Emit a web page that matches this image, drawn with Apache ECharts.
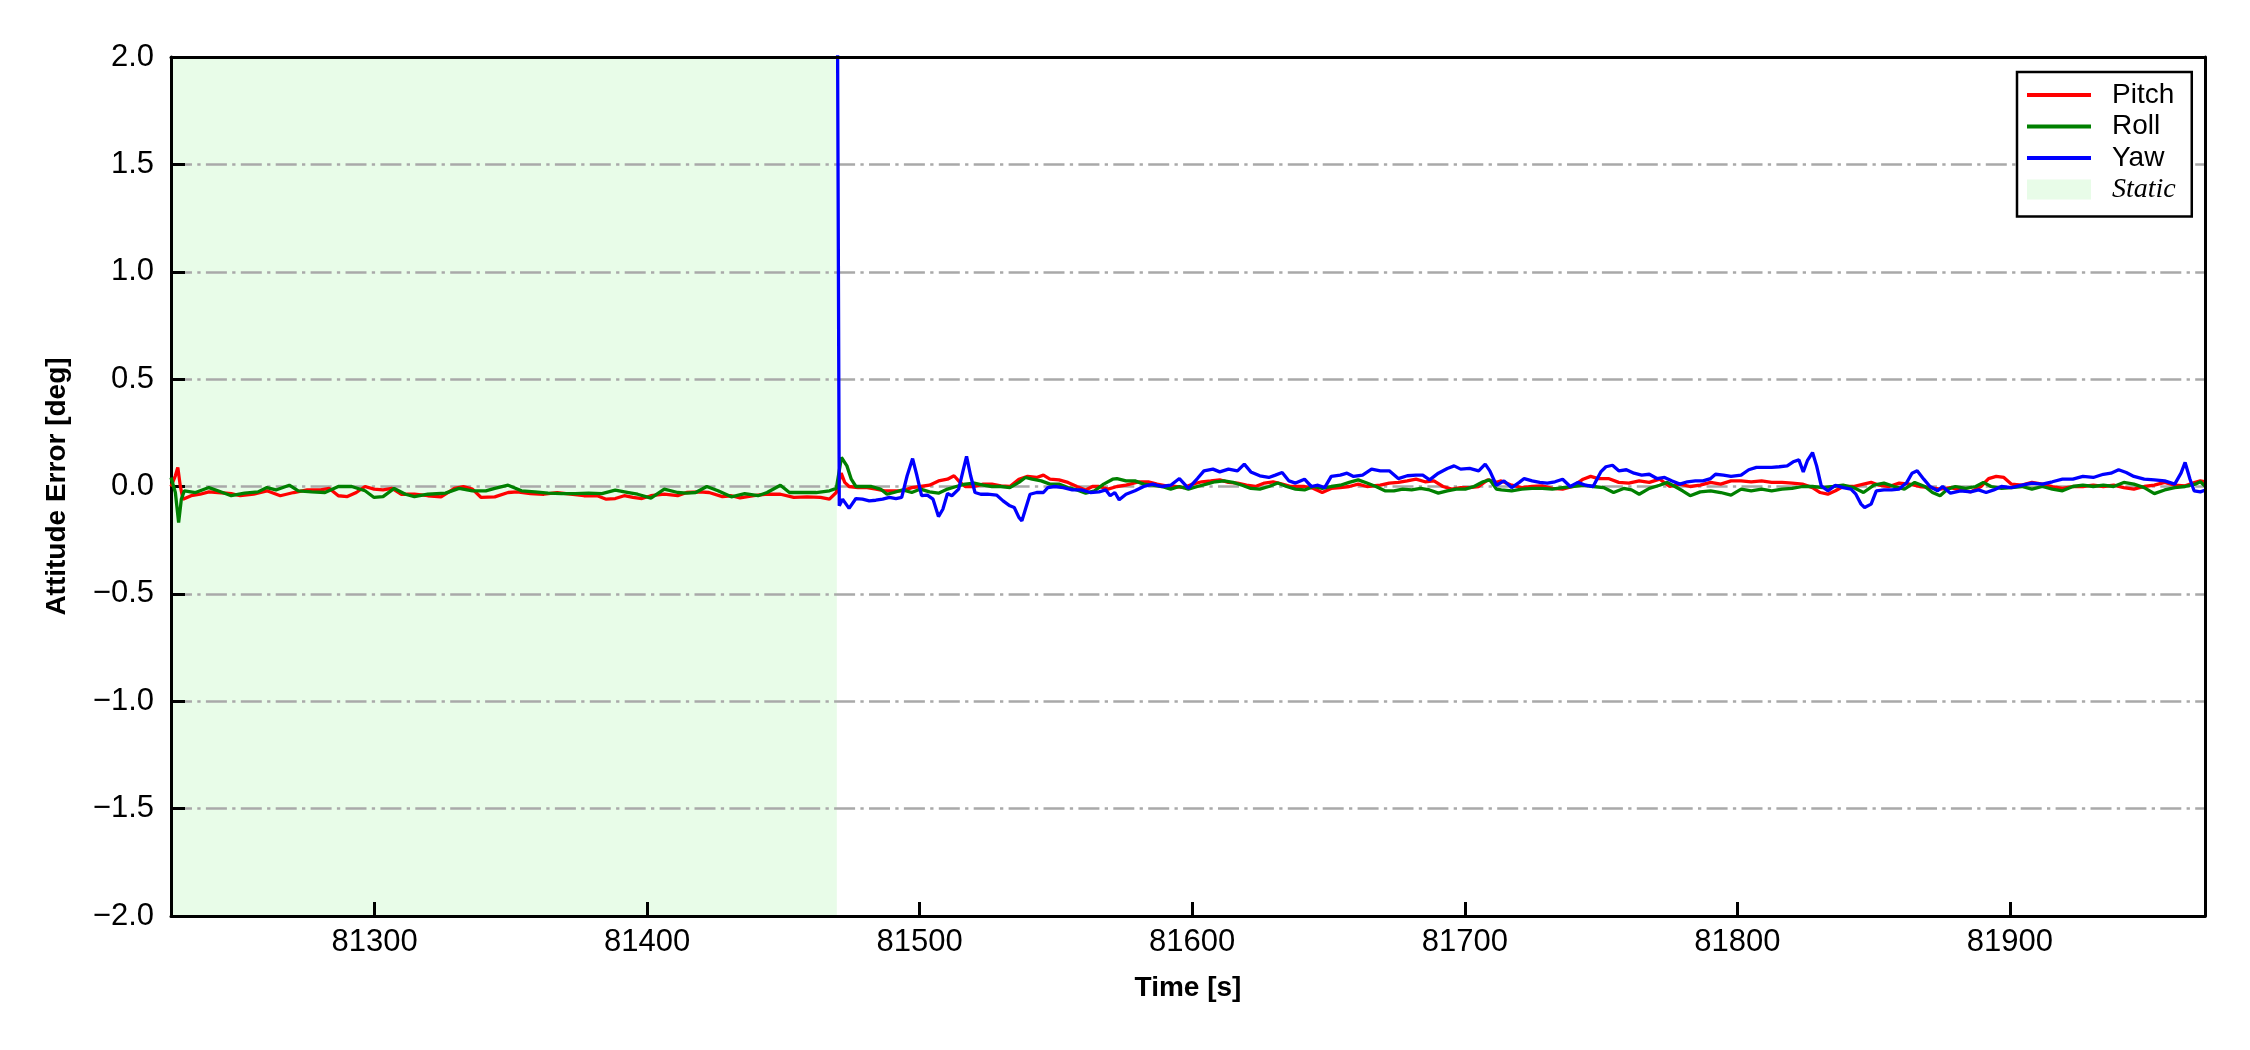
<!DOCTYPE html>
<html>
<head>
<meta charset="utf-8">
<script src="https://cdn.jsdelivr.net/npm/echarts@6/dist/echarts.min.js"></script>
<style>
html,body{margin:0;padding:0;background:#fff;}
#chart{width:2250px;height:1050px;}
</style>
</head>
<body>
<div id="chart"></div>
<script>
// ---- data (time [s], attitude error [deg]) ----
const xMin = 81225.3;
const xMax = 81971.6;
const xTickValues = [81300, 81400, 81500, 81600, 81700, 81800, 81900];
const yMin = -2.0;
const yMax = 2.0;
const yStep = 0.5;
const staticStart = 81225.3;
const staticEnd = 81469.6;
const seriesNames = ['Pitch', 'Roll', 'Yaw'];
const staticName = 'Static';

const pitch = [
[81225.3,0],[81226.9,0.050],[81227.8,0.089],[81228.7,0.003],[81229.7,-0.059],[81232.7,-0.043],[81236.0,-0.036],[81239.2,-0.025],
[81242.5,-0.028],[81247.4,-0.033],[81250.7,-0.043],[81255.6,-0.036],[81260.5,-0.020],[81265.4,-0.043],[81270.3,-0.028],[81275.3,-0.016],
[81280.2,-0.016],[81283.4,-0.009],[81286.7,-0.043],[81290.0,-0.047],[81293.3,-0.028],[81296.5,0.000],[81299.8,-0.012],[81303.1,-0.016],
[81306.4,-0.009],[81309.7,-0.036],[81314.6,-0.036],[81319.5,-0.043],[81324.4,-0.048],[81329.3,-0.009],[81332.6,0.000],[81335.9,-0.012],
[81339.1,-0.051],[81344.1,-0.048],[81349.0,-0.028],[81352.3,-0.025],[81357.2,-0.033],[81362.1,-0.036],[81367.0,-0.028],[81371.9,-0.036],
[81376.8,-0.043],[81381.7,-0.043],[81385.0,-0.059],[81388.3,-0.056],[81391.6,-0.043],[81394.8,-0.051],[81398.1,-0.056],[81401.4,-0.043],
[81406.3,-0.036],[81411.2,-0.043],[81414.5,-0.028],[81419.4,-0.025],[81422.7,-0.028],[81427.6,-0.047],[81430.9,-0.043],[81434.1,-0.053],
[81439.1,-0.043],[81444.0,-0.036],[81448.9,-0.036],[81453.8,-0.051],[81458.7,-0.048],[81463.6,-0.051],[81466.9,-0.059],[81469.4,-0.028],
[81470.0,0.000],[81471.2,0.062],[81472.5,0.019],[81474.1,0.000],[81477.4,-0.005],[81480.7,-0.005],[81484.0,-0.012],[81487.2,-0.020],
[81490.5,-0.020],[81493.8,-0.020],[81497.1,-0.005],[81500.3,0.000],[81503.6,0.006],[81506.9,0.026],[81510.2,0.034],[81512.6,0.050],
[81514.3,0.026],[81516.7,0.000],[81520.0,0.000],[81523.3,0.011],[81526.5,0.011],[81529.8,0.003],[81533.1,0.000],[81536.4,0.034],
[81539.6,0.047],[81542.9,0.042],[81545.4,0.053],[81547.8,0.034],[81551.1,0.031],[81554.4,0.019],[81557.7,0.000],[81560.9,-0.016],
[81563.4,0.000],[81565.8,0.000],[81569.1,-0.012],[81572.4,0.000],[81575.7,0.006],[81580.6,0.022],[81583.9,0.022],[81587.1,0.011],
[81590.4,0.003],[81593.7,0.000],[81597.0,-0.005],[81600.2,0.011],[81603.5,0.022],[81606.8,0.026],[81610.1,0.031],[81613.3,0.019],
[81616.6,0.016],[81619.9,0.006],[81623.2,0.000],[81626.5,0.016],[81629.7,0.022],[81633.0,0.011],[81636.3,0.000],[81641.2,0.000],
[81644.5,-0.009],[81647.7,-0.028],[81651.0,-0.009],[81654.3,-0.005],[81657.6,0.000],[81660.9,0.011],[81664.1,0.000],[81669.0,0.006],
[81672.3,0.016],[81675.6,0.019],[81678.9,0.026],[81682.1,0.034],[81685.4,0.022],[81688.7,0.026],[81692.0,0.000],[81695.2,-0.012],
[81698.5,-0.005],[81701.8,-0.005],[81705.1,0.000],[81708.4,0.031],[81711.6,0.019],
[81713.4,0.026],[81717.2,0.006],[81720.9,-0.005],[81724.7,0.000],[81728.4,0.003],[81732.1,-0.009],[81735.9,-0.012],[81739.6,0.000],
[81743.4,0.034],[81746.2,0.047],[81749.0,0.037],[81752.7,0.037],[81756.5,0.019],[81760.2,0.016],[81764.0,0.026],[81767.7,0.019],
[81771.5,0.034],[81775.2,0.000],[81778.9,0.011],[81782.7,0.000],[81786.4,0.006],[81790.2,0.019],[81793.9,0.011],[81797.7,0.026],
[81801.4,0.026],[81805.1,0.022],[81808.9,0.026],[81812.6,0.019],[81816.4,0.019],[81820.1,0.016],[81823.9,0.011],[81827.6,-0.005],
[81830.4,-0.028],[81833.2,-0.036],[81836.0,-0.020],[81838.8,0.000],[81842.6,0.000],[81846.3,0.011],[81849.1,0.019],[81852.0,0.006],
[81855.7,0.000],[81859.4,0.016],[81863.2,0.011],[81866.9,0.000],[81870.7,-0.005],[81874.4,-0.012],[81878.2,-0.005],[81881.9,-0.016],
[81885.6,-0.025],[81889.4,0.000],[81892.2,0.037],[81895.0,0.047],[81897.8,0.042],[81900.6,0.011],[81904.4,0.006],[81908.1,0.019],
[81911.9,0.011],[81915.6,0.000],[81919.3,-0.009],[81923.1,0.000],[81926.8,0.000],[81930.6,0.006],[81934.3,0.000],[81938.1,0.006],
[81941.8,-0.005],[81945.5,-0.012],[81949.3,0.000],[81953.0,0.006],[81956.8,0.019],[81960.5,0.006],[81964.3,0.003],[81968.0,0.019],
[81969.9,0.026],[81971.8,0.022]
];

const roll = [
[81225.3,0.042],[81226.9,-0.028],[81228.1,-0.168],[81229.1,-0.059],[81230.2,-0.020],[81234.3,-0.028],[81239.2,-0.005],[81242.5,-0.020],
[81247.4,-0.043],[81252.3,-0.031],[81257.2,-0.025],[81260.5,-0.005],[81263.8,-0.016],[81268.7,0.006],[81272.0,-0.020],[81276.9,-0.025],
[81281.8,-0.028],[81286.7,0.000],[81291.6,0.000],[81296.5,-0.020],[81299.8,-0.051],[81303.1,-0.047],[81307.2,-0.009],[81311.3,-0.036],
[81314.6,-0.047],[81319.5,-0.036],[81326.0,-0.031],[81331.0,-0.009],[81335.9,-0.020],[81340.8,-0.020],[81344.1,-0.009],[81349.0,0.006],
[81353.9,-0.020],[81358.8,-0.025],[81363.7,-0.031],[81368.6,-0.033],[81373.5,-0.033],[81378.5,-0.031],[81383.4,-0.033],[81388.3,-0.017],
[81393.2,-0.028],[81396.5,-0.036],[81401.4,-0.054],[81406.3,-0.012],[81411.2,-0.028],[81414.5,-0.031],[81417.8,-0.028],[81421.9,0.000],
[81426.0,-0.020],[81430.9,-0.048],[81435.8,-0.033],[81440.7,-0.043],[81444.0,-0.028],[81448.9,0.006],[81452.2,-0.028],[81457.1,-0.028],
[81462.0,-0.028],[81466.9,-0.020],[81469.4,-0.009],
[81470.0,0.000],[81471.3,0.135],[81473.3,0.096],[81474.9,0.034],[81476.6,0.000],[81479.9,0.000],[81482.3,0.000],[81485.6,-0.012],
[81488.0,-0.036],[81490.5,-0.028],[81493.8,-0.016],[81497.1,-0.028],[81500.3,-0.012],[81503.6,-0.025],[81506.9,-0.031],[81510.2,-0.012],
[81513.4,0.000],[81516.7,0.011],[81520.0,0.016],[81523.3,0.006],[81526.5,0.000],[81529.8,0.000],[81533.1,-0.005],[81536.4,0.019],
[81538.8,0.042],[81541.3,0.034],[81544.6,0.026],[81547.8,0.011],[81551.1,0.011],[81554.4,-0.005],[81557.7,-0.016],[81560.9,-0.031],
[81564.2,-0.020],[81567.5,0.011],[81570.8,0.034],[81572.4,0.037],[81575.7,0.026],[81579.0,0.026],[81582.2,0.011],[81585.5,0.006],
[81588.8,0.000],[81592.1,-0.012],[81595.3,0.000],[81598.6,-0.012],[81601.9,0.000],[81605.2,0.011],[81608.4,0.022],[81611.7,0.026],
[81615.0,0.019],[81618.3,0.006],[81621.5,-0.009],[81624.8,-0.012],[81628.1,0.000],[81631.4,0.016],[81634.6,0.000],[81637.9,-0.012],
[81641.2,-0.016],[81644.5,0.000],[81647.7,-0.009],[81651.0,0.000],[81654.3,0.006],[81657.6,0.019],[81660.9,0.031],[81664.1,0.016],
[81667.4,0.000],[81670.7,-0.020],[81674.0,-0.020],[81677.2,-0.012],[81680.5,-0.016],[81683.8,-0.009],[81687.1,-0.016],[81690.3,-0.031],
[81693.6,-0.020],[81696.9,-0.012],[81700.2,-0.012],[81703.4,0.000],[81706.7,0.022],[81709.2,0.031],[81711.6,-0.012],
[81713.4,-0.016],[81717.2,-0.020],[81720.9,-0.012],[81724.7,-0.009],[81728.4,-0.009],[81732.1,-0.012],[81735.9,-0.005],[81739.6,0.000],
[81743.4,0.006],[81747.1,0.000],[81750.9,-0.005],[81754.6,-0.028],[81758.3,-0.009],[81761.2,-0.016],[81764.0,-0.036],[81767.7,-0.009],
[81771.5,0.006],[81774.3,0.019],[81777.1,0.000],[81779.9,-0.020],[81782.7,-0.043],[81786.4,-0.025],[81790.2,-0.020],[81793.9,-0.028],
[81797.7,-0.040],[81801.4,-0.012],[81805.1,-0.020],[81808.9,-0.012],[81812.6,-0.020],[81816.4,-0.012],[81820.1,-0.009],[81823.9,0.000],
[81827.6,0.000],[81831.4,-0.005],[81835.1,0.000],[81838.8,0.006],[81842.6,-0.005],[81846.3,-0.028],[81850.1,0.006],[81853.8,0.016],
[81857.6,0.000],[81861.3,-0.012],[81865.1,0.019],[81868.8,0.000],[81871.6,-0.028],[81874.4,-0.043],[81877.2,-0.012],[81880.0,0.000],
[81883.8,-0.009],[81887.5,0.000],[81890.3,0.019],[81893.1,0.000],[81896.9,-0.009],[81900.6,-0.005],[81904.4,0.000],[81908.1,-0.012],
[81911.9,0.000],[81915.6,-0.012],[81919.3,-0.020],[81923.1,0.000],[81926.8,0.006],[81930.6,0.000],[81934.3,0.006],[81938.1,0.000],
[81941.8,0.019],[81945.5,0.011],[81949.3,-0.005],[81953.0,-0.033],[81956.8,-0.016],[81960.5,-0.005],[81964.3,0.000],[81968.0,0.011],
[81969.9,0.022],[81971.8,0.000]
];

const yaw = [
[81469.6,3.0],[81470.5,-0.090],[81471.7,-0.059],[81474.1,-0.102],[81476.6,-0.056],[81479.0,-0.059],[81481.5,-0.067],[81483.9,-0.064],
[81486.4,-0.059],[81488.9,-0.051],[81491.3,-0.056],[81493.4,-0.051],[81495.4,0.050],[81497.4,0.130],[81499.0,0.050],[81500.7,-0.043],
[81502.8,-0.040],[81504.9,-0.059],[81506.9,-0.140],[81508.5,-0.106],[81510.2,-0.033],[81511.8,-0.043],[81514.3,-0.012],[81515.9,0.073],
[81517.2,0.140],[81518.7,0.050],[81520.3,-0.028],[81522.4,-0.036],[81524.9,-0.036],[81528.2,-0.040],[81530.6,-0.067],[81533.1,-0.090],
[81534.7,-0.098],[81536.4,-0.144],[81537.5,-0.160],[81538.8,-0.106],[81540.5,-0.036],[81542.9,-0.028],[81545.4,-0.028],[81547.0,-0.005],
[81549.5,0.000],[81552.7,-0.005],[81556.0,-0.016],[81559.3,-0.016],[81562.6,-0.028],[81565.8,-0.025],[81568.3,-0.016],[81569.9,-0.043],
[81571.6,-0.028],[81573.2,-0.062],[81575.7,-0.036],[81579.0,-0.020],[81582.2,0.000],[81585.5,0.011],[81588.8,0.000],[81592.1,0.006],
[81595.3,0.037],[81598.6,-0.009],[81601.9,0.037],[81604.3,0.073],[81607.6,0.081],[81610.1,0.068],[81613.3,0.081],[81616.6,0.073],
[81619.1,0.104],[81621.5,0.068],[81624.8,0.050],[81628.1,0.042],[81630.5,0.053],[81633.0,0.065],[81635.5,0.026],[81637.9,0.016],
[81641.2,0.034],[81643.7,0.000],[81646.1,0.006],[81648.6,-0.005],[81651.0,0.047],[81654.3,0.053],[81656.8,0.062],[81659.2,0.047],
[81662.5,0.053],[81665.8,0.081],[81669.0,0.073],[81672.3,0.073],[81675.6,0.037],[81678.9,0.050],[81682.1,0.053],[81684.6,0.053],
[81687.1,0.031],[81690.3,0.062],[81693.6,0.084],[81696.1,0.096],[81698.5,0.081],[81701.8,0.084],[81705.1,0.073],[81707.5,0.104],
[81709.2,0.073],[81711.6,0.006],
[81714.4,0.026],[81717.2,-0.005],[81720.0,0.019],[81721.8,0.037],[81724.7,0.026],[81727.5,0.019],[81730.3,0.016],[81733.1,0.022],
[81735.9,0.034],[81738.7,0.000],[81741.5,0.019],[81744.3,0.006],[81747.1,0.000],[81749.9,0.068],[81751.8,0.092],[81754.2,0.099],
[81756.5,0.073],[81759.3,0.078],[81762.1,0.062],[81764.9,0.053],[81767.7,0.057],[81770.5,0.037],[81773.3,0.042],[81776.1,0.026],
[81778.9,0.011],[81781.7,0.022],[81784.6,0.026],[81787.4,0.026],[81790.2,0.037],[81792.0,0.057],[81794.9,0.053],[81797.7,0.047],
[81801.4,0.053],[81804.2,0.078],[81807.0,0.089],[81809.8,0.089],[81812.6,0.089],[81815.4,0.092],[81818.3,0.096],[81820.5,0.115],
[81822.6,0.124],[81824.2,0.068],[81825.7,0.120],[81827.6,0.158],[81829.1,0.096],[81830.8,0.003],[81833.2,-0.020],[81836.0,0.006],
[81838.8,-0.005],[81841.7,-0.012],[81843.5,-0.036],[81845.4,-0.082],[81846.7,-0.098],[81849.1,-0.082],[81851.0,-0.020],[81853.8,-0.016],
[81856.6,-0.016],[81859.4,-0.012],[81862.2,0.019],[81864.1,0.062],[81866.0,0.073],[81868.4,0.034],[81870.7,0.000],[81873.5,-0.020],
[81875.3,0.000],[81878.2,-0.031],[81881.9,-0.020],[81885.6,-0.025],[81888.5,-0.016],[81891.3,-0.028],[81894.1,-0.016],[81896.9,0.000],
[81900.6,-0.005],[81904.4,0.006],[81908.1,0.016],[81911.9,0.011],[81915.6,0.022],[81919.3,0.034],[81923.1,0.034],[81926.8,0.047],
[81930.6,0.042],[81934.3,0.057],[81937.1,0.062],[81939.9,0.078],[81942.7,0.065],[81945.5,0.047],[81949.3,0.034],[81953.0,0.031],
[81956.8,0.026],[81960.5,0.011],[81962.8,0.062],[81964.3,0.112],[81966.1,0.034],[81967.6,-0.020],[81969.9,-0.025],[81971.8,-0.016]
];

// ---- chart ----
const FONT = "'Liberation Sans', Arial, Helvetica, sans-serif";
const chart = echarts.init(document.getElementById('chart'), null, {renderer: 'canvas'});
const fmtY = v => (v < 0 ? '\u2212' : '') + Math.abs(v).toFixed(1);
const gridDash = [21, 5.3, 3.3, 5.3];
// legend handle: a 4px-high bar centred in a 64x20 box (corner specks keep the box size)
const lineIcon = 'path://M0,0 L0.01,0 L0.01,0.01 L0,0.01 Z M0,8 L64,8 L64,12 L0,12 Z M63.99,19.99 L64,19.99 L64,20 L63.99,20 Z';

const lineSeries = (name, data, color) => ({
  name, type: 'line', data, xAxisIndex: 0, yAxisIndex: 0,
  symbol: 'none', showSymbol: false, clip: true, z: 3,
  lineStyle: {color, width: 3.3}, itemStyle: {color}
});

const legendText = {fontFamily: FONT, fontSize: 28, color: '#000', lineHeight: 28, padding: [0, 0, 0, 16]};

chart.setOption({
  animation: false,
  backgroundColor: '#ffffff',
  grid: {left: 171, right: 45, top: 57, bottom: 134, show: false},
  legend: {
    orient: 'vertical', left: 2017, top: 72, align: 'left',
    padding: [9, 16, 13, 10], itemGap: 3.5, itemWidth: 64, itemHeight: 20,
    borderColor: '#000', borderWidth: 2.5, backgroundColor: '#fff', borderRadius: 0,
    symbolKeepAspect: false,
    textStyle: legendText,
    data: [
      {name: seriesNames[0], icon: lineIcon, itemStyle: {color: '#ff0000', borderWidth: 0}},
      {name: seriesNames[1], icon: lineIcon, itemStyle: {color: '#008000', borderWidth: 0}},
      {name: seriesNames[2], icon: lineIcon, itemStyle: {color: '#0000ff', borderWidth: 0}},
      {name: staticName, icon: 'rect', itemStyle: {color: '#e8fce8', borderWidth: 0},
       textStyle: Object.assign({}, legendText, {fontFamily: "'Liberation Serif', 'Times New Roman', serif", fontStyle: 'italic'})}
    ]
  },
  xAxis: [{
    type: 'value', min: xMin, max: xMax, position: 'bottom', z: 4,
    name: 'Time [s]', nameLocation: 'middle', nameGap: 58,
    nameTextStyle: {fontFamily: FONT, fontSize: 28, fontWeight: 'bold', color: '#000'},
    axisLine: {show: true, onZero: false, lineStyle: {color: '#000', width: 3}},
    axisTick: {show: true, inside: true, length: 14, lineStyle: {color: '#000', width: 3}, customValues: xTickValues},
    axisLabel: {show: true, fontFamily: FONT, fontSize: 31, color: '#000', margin: 11, customValues: xTickValues, formatter: v => String(v)},
    splitLine: {show: false}
  }, {
    type: 'value', min: xMin, max: xMax, position: 'top', z: 4,
    axisLine: {show: true, onZero: false, lineStyle: {color: '#000', width: 3}},
    axisTick: {show: false}, axisLabel: {show: false}, splitLine: {show: false}
  }],
  yAxis: [{
    type: 'value', min: yMin, max: yMax, interval: yStep, position: 'left', z: 2,
    name: 'Attitude Error [deg]', nameLocation: 'middle', nameGap: 100, nameRotate: 90,
    nameTextStyle: {fontFamily: FONT, fontSize: 28, fontWeight: 'bold', color: '#000'},
    axisLine: {show: true, onZero: false, lineStyle: {color: '#000', width: 3}},
    axisTick: {show: true, inside: true, length: 14, lineStyle: {color: '#000', width: 3}},
    axisLabel: {show: true, fontFamily: FONT, fontSize: 31, color: '#000', margin: 17, formatter: fmtY,
                showMinLabel: true, showMaxLabel: true},
    splitLine: {show: true, lineStyle: {color: '#a9a9a9', width: 2.7, type: gridDash}}
  }, {
    type: 'value', min: yMin, max: yMax, interval: yStep, position: 'right', z: 4,
    axisLine: {show: true, onZero: false, lineStyle: {color: '#000', width: 3}},
    axisTick: {show: false}, axisLabel: {show: false}, splitLine: {show: false}
  }],
  series: [
    {
      name: staticName, type: 'bar', data: [], xAxisIndex: 0, yAxisIndex: 0, z: 1,
      itemStyle: {color: '#e8fce8'},
      markArea: {silent: true, z: 1, itemStyle: {color: '#e8fce8', borderWidth: 0},
                 data: [[{xAxis: staticStart}, {xAxis: staticEnd}]]}
    },
    lineSeries(seriesNames[0], pitch, '#ff0000'),
    lineSeries(seriesNames[1], roll, '#008000'),
    lineSeries(seriesNames[2], yaw, '#0000ff')
  ]
});
</script>
</body>
</html>
